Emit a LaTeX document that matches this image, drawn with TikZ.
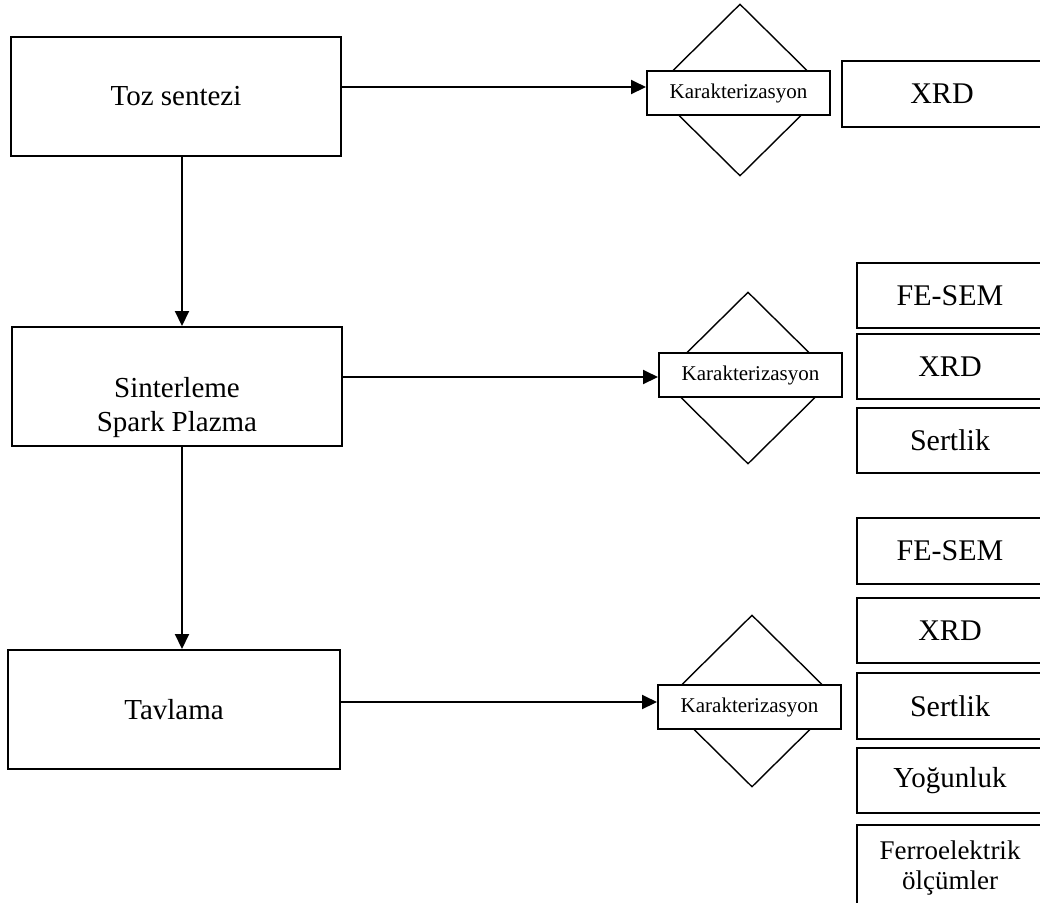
\documentclass[tikz,border=0pt]{standalone}
\usepackage{fontspec}
\setmainfont{Liberation Serif}
\usetikzlibrary{shapes.geometric,arrows.meta}

\tikzset{
  procbox/.style={draw, line width=1pt, minimum width=165pt, minimum height=59.5pt, inner sep=0pt, font=\fontsize{14.5}{17}\selectfont, align=center},
  testbox/.style={draw, line width=1pt, minimum width=93pt, minimum height=32.5pt, inner sep=0pt, font=\fontsize{15}{15}\selectfont, align=center},
  karbox/.style={draw, fill=white, line width=1pt, minimum width=91.5pt, minimum height=22pt, inner sep=0pt, font=\fontsize{10.5}{12}\selectfont},
  karshape/.style={draw, diamond, line width=0.7pt, minimum width=87pt, minimum height=86pt, inner sep=0pt},
  flow/.style={-{Triangle[length=7.5pt,width=7pt]}, line width=1pt}
}

\begin{document}
\begin{tikzpicture}[x=0.5pt, y=-0.5pt]
    \useasboundingbox (0,0) rectangle (1040,902);
    \clip (0,0) rectangle (1040,902);

    % Define the process steps
    \node[procbox] (toz) at (176,96.5) {Toz sentezi};
    \node[procbox, minimum width=165pt] (sinter) at (177,386.5) {};
    \node[font=\fontsize{14.5}{17}\selectfont, align=center] (sinterText) at (177,408) {Sinterleme\\Spark Plazma};
    \node[procbox, minimum width=166pt] (tav) at (174,709.5) {Tavlama};

    % Draw the characterization diamonds
    \node[karshape] (shape1) at (740,90) {};
    \node[karshape] (shape2) at (748,378) {};
    \node[karshape] (shape3) at (752,701) {};
    \node[karbox] (kar1) at (738.5,93) {Karakterizasyon};
    \node[karbox] (kar2) at (750.5,375) {Karakterizasyon};
    \node[karbox] (kar3) at (749.5,707) {Karakterizasyon};

    % Place the measurement boxes
    \node[testbox, minimum width=100pt, minimum height=33pt] (xrdA) at (942,94) {XRD};

    \node[testbox] (semB) at (950,295.5) {FE-SEM};
    \node[testbox] (xrdB) at (950,366.5) {XRD};
    \node[testbox] (hardB) at (950,440.5) {Sertlik};

    \node[testbox, minimum height=33pt] (semC) at (950,551) {FE-SEM};
    \node[testbox] (xrdC) at (950,630.5) {XRD};
    \node[testbox, minimum height=33pt] (hardC) at (950,706) {Sertlik};
    \node[testbox, font=\fontsize{14.5}{15}\selectfont] (densC) at (950,780.5) {Yoğunluk};
    \node[testbox, minimum height=42.5pt, font=\fontsize{13.5}{15}\selectfont] (ferroC) at (950,867.5) {Ferroelektrik\\ölçümler};

    % Draw the arrows
    \draw[flow] ([xshift=3pt]toz.south) -- ([xshift=3pt]toz.south |- sinter.north);
    \draw[flow] ([xshift=2.5pt]sinter.south) -- ([xshift=2.5pt]sinter.south |- tav.north);
    \draw[flow] ([yshift=4.75pt]toz.east) -- ([yshift=4.75pt]toz.east -| kar1.west);
    \draw[flow] ([yshift=4.75pt]sinter.east) -- ([yshift=4.75pt]sinter.east -| kar2.west);
    \draw[flow] ([yshift=3.75pt]tav.east) -- ([yshift=3.75pt]tav.east -| kar3.west);

\end{tikzpicture}
\end{document}
